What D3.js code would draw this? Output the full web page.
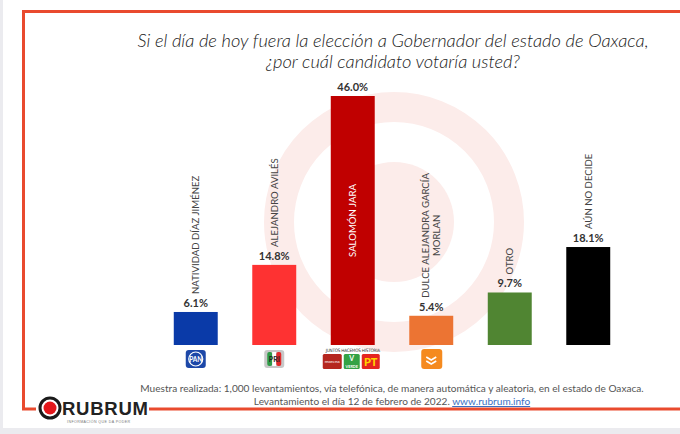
<!DOCTYPE html>
<html><head><meta charset="utf-8">
<script src="https://cdn.jsdelivr.net/npm/d3@7"></script>
<style>
html,body{margin:0;padding:0;background:#ebebef;}
svg{display:block;}
</style></head>
<body>
<svg id="chart" width="680" height="434"></svg>
<script>
// ---- data ----
const titleLines = ["Si el día de hoy fuera la elección a Gobernador del estado de Oaxaca,", "¿por cuál candidato votaría usted?"];
const categories = ["NATIVIDAD DÍAZ JIMÉNEZ", "ALEJANDRO AVILÉS", "SALOMÓN JARA", "DULCE ALEJANDRA GARCÍA\nMORLAN", "OTRO", "AÚN NO DECIDE"];
const values = [6.1, 14.8, 46.0, 5.4, 9.7, 18.1];
const valueLabels = ["6.1%", "14.8%", "46.0%", "5.4%", "9.7%", "18.1%"];
const parties = ["PAN", "PRI", "JHH", "MC", "", ""];
const barColors = ["#0a3aa8", "#fe3232", "#c00000", "#ec7433", "#508532", "#000000"];
const footerLine1 = "Muestra realizada: 1,000 levantamientos, vía telefónica, de manera automática y aleatoria, en el estado de Oaxaca.";
const footerLine2a = "Levantamiento el día 12 de febrero de 2022. ";
const footerLink = "www.rubrum.info";

// ---- drawing ----
const svg = d3.select("#chart");
const font = "Lato, 'Open Sans', 'DejaVu Sans', sans-serif";
svg.append("rect").attr("x", 3).attr("y", 0).attr("width", 677).attr("height", 428).attr("fill", "#ffffff");

// watermark target
const wm = svg.append("g").attr("transform", "translate(394,222)");
wm.append("circle").attr("r", 115).attr("fill", "none").attr("stroke", "#fcecea").attr("stroke-width", 30);
wm.append("circle").attr("r", 60).attr("fill", "#fcecea");

// frame
const frameColor = "#e94a2e";
svg.append("path").attr("d", "M680,11.5 H23.5 V409 H36").attr("fill", "none").attr("stroke", frameColor).attr("stroke-width", 3);
svg.append("path").attr("d", "M149,409 H680").attr("fill", "none").attr("stroke", frameColor).attr("stroke-width", 3);

// title
svg.append("text").attr("x", 393).attr("y", 47).attr("text-anchor", "middle")
  .attr("font-family", font).attr("font-style", "italic").attr("font-weight", 300)
  .attr("font-size", 18.3).attr("fill", "#222")
  .selectAll("tspan").data(titleLines).join("tspan")
  .attr("x", 393).attr("dy", (d, i) => i ? 21 : 0).text(d => d);

// scales
const baseY = 345;
const x = d3.scaleBand().domain(categories).range([156.5, 627.5]).paddingInner(0.44).paddingOuter(0.22);
const y = d3.scaleLinear().domain([0, d3.max(values)]).range([baseY, 96]);

const data = categories.map((c, i) => ({c, v: values[i], lab: valueLabels[i], col: barColors[i], party: parties[i], i}));

svg.append("g").selectAll("rect").data(data).join("rect")
  .attr("x", d => x(d.c)).attr("y", d => y(d.v))
  .attr("width", x.bandwidth()).attr("height", d => baseY - y(d.v))
  .attr("fill", d => d.col);

// value labels
svg.append("g").selectAll("text").data(data).join("text")
  .attr("x", d => x(d.c) + x.bandwidth() / 2).attr("y", d => y(d.v) - 5)
  .attr("text-anchor", "middle").attr("font-family", font).attr("font-weight", 700)
  .attr("font-size", 11).attr("fill", "#333").text(d => d.lab);

// category labels (rotated)
const catSize = 9.6;
data.forEach(d => {
  const cx = x(d.c) + x.bandwidth() / 2;
  const lines = d.c.split("\n");
  if (d.v === d3.max(values)) {
    const cy = (y(d.v) + baseY) / 2;
    svg.append("text").attr("transform", `translate(${cx},${cy}) rotate(-90)`)
      .attr("text-anchor", "middle").attr("dy", "0.35em")
      .attr("font-family", font).attr("font-weight", 400).attr("font-size", catSize)
      .attr("fill", "#fff").text(lines[0]);
    return;
  }
  const startY = y(d.v) - 18;
  const g = svg.append("g");
  const tmp = g.append("text").attr("font-family", font).attr("font-weight", 400).attr("font-size", catSize).text(lines[0]);
  const len = tmp.node().getComputedTextLength();
  tmp.remove();
  const cy = startY - len / 2;
  lines.forEach((ln, k) => {
    const off = (k - (lines.length - 1) / 2) * 11;
    g.append("text").attr("transform", `translate(${cx + off},${cy}) rotate(-90)`)
      .attr("text-anchor", "middle").attr("dy", "0.35em")
      .attr("font-family", font).attr("font-weight", 400).attr("font-size", catSize)
      .attr("fill", "#444").text(ln);
  });
});

// party logos
data.forEach(d => {
  const cx = x(d.c) + x.bandwidth() / 2;
  const g = svg.append("g").attr("transform", `translate(${cx},359)`);
  if (d.party === "PAN") {
    g.append("rect").attr("x", -10).attr("y", -9).attr("width", 20).attr("height", 18).attr("rx", 3).attr("fill", "#1d48a8");
    g.append("circle").attr("r", 7).attr("fill", "none").attr("stroke", "#fff").attr("stroke-width", 1.2);
    g.append("text").attr("y", 2.5).attr("text-anchor", "middle").attr("font-family", font).attr("font-weight", 700)
      .attr("font-size", 6.5).attr("fill", "#fff").text("PAN");
  } else if (d.party === "PRI") {
    g.append("rect").attr("x", -10).attr("y", -9).attr("width", 20).attr("height", 18).attr("rx", 3).attr("fill", "#c8c8c8");
    g.append("rect").attr("x", -7).attr("y", -7).attr("width", 5).attr("height", 14).attr("rx", 2).attr("fill", "#2f9b47");
    g.append("rect").attr("x", -2).attr("y", -7).attr("width", 4).attr("height", 14).attr("fill", "#fff");
    g.append("rect").attr("x", 2).attr("y", -7).attr("width", 5).attr("height", 14).attr("rx", 2).attr("fill", "#e2292a");
    g.append("text").attr("y", 2.5).attr("text-anchor", "middle").attr("font-family", font).attr("font-weight", 700)
      .attr("font-size", 7).attr("fill", "#222").text("PRI");
  } else if (d.party === "JHH") {
    g.append("text").attr("y", -7).attr("text-anchor", "middle").attr("font-family", "'Liberation Sans Narrow', 'DejaVu Sans Condensed', sans-serif")
      .attr("font-size", 4.6).attr("letter-spacing", -0.2).attr("fill", "#333").text("JUNTOS HACEMOS HISTORIA");
    g.append("rect").attr("x", -30).attr("y", -5).attr("width", 19).attr("height", 15).attr("rx", 1.5).attr("fill", "#b5261e");
    g.append("text").attr("x", -20.5).attr("y", 4).attr("text-anchor", "middle").attr("font-family", font)
      .attr("font-size", 4.5).attr("fill", "#fff").text("morena");
    g.append("rect").attr("x", -9).attr("y", -5).attr("width", 16).attr("height", 15).attr("rx", 1.5).attr("fill", "#34a245");
    g.append("text").attr("x", -1).attr("y", 2).attr("text-anchor", "middle").attr("font-family", font).attr("font-weight", 700)
      .attr("font-size", 7).attr("fill", "#fff").text("V");
    g.append("text").attr("x", -1).attr("y", 8.5).attr("text-anchor", "middle").attr("font-family", font).attr("font-weight", 700)
      .attr("font-size", 3.8).attr("fill", "#fff").text("VERDE");
    g.append("rect").attr("x", 9).attr("y", -5).attr("width", 18).attr("height", 15).attr("rx", 1.5).attr("fill", "#e52521");
    g.append("text").attr("x", 18).attr("y", 7).attr("text-anchor", "middle").attr("font-family", font).attr("font-weight", 900)
      .attr("font-size", 11).attr("fill", "#ffd400").text("PT");
  } else if (d.party === "MC") {
    g.append("rect").attr("x", -10).attr("y", -10).attr("width", 21).attr("height", 20).attr("rx", 3).attr("fill", "#f58a1f");
    g.append("path").attr("d", "M-5,-2 L0,1 L5,-2 M-5,2 L0,5 L5,2").attr("fill", "none").attr("stroke", "#fff").attr("stroke-width", 1.6);
  }
});

// footer
svg.append("text").attr("x", 392).attr("y", 392).attr("text-anchor", "middle")
  .attr("font-family", font).attr("font-size", 10.1).attr("fill", "#555").text(footerLine1);
const f2 = svg.append("text").attr("x", 392).attr("y", 405).attr("text-anchor", "middle")
  .attr("font-family", font).attr("font-size", 10.1).attr("fill", "#555");
f2.append("tspan").text(footerLine2a);
f2.append("tspan").attr("fill", "#3a6fc4").attr("text-decoration", "underline").text(footerLink);

// RUBRUM logo
const lg = svg.append("g");
lg.append("circle").attr("cx", 50).attr("cy", 408).attr("r", 10).attr("fill", "#fff").attr("stroke", "#1a1a1a").attr("stroke-width", 3);
lg.append("circle").attr("cx", 50).attr("cy", 408).attr("r", 6.5).attr("fill", "#e3171b");
lg.append("text").attr("x", 62).attr("y", 415).attr("font-family", "'Liberation Sans', Arial, sans-serif").attr("font-weight", 700)
  .attr("font-size", 18.5).attr("textLength", 86).attr("fill", "#222").text("RUBRUM");
lg.append("text").attr("x", 67).attr("y", 423).attr("font-family", "'Liberation Sans', Arial, sans-serif")
  .attr("font-size", 3.6).attr("letter-spacing", 0.4).attr("fill", "#777").text("INFORMACIÓN QUE DA PODER");
</script>
</body></html>
